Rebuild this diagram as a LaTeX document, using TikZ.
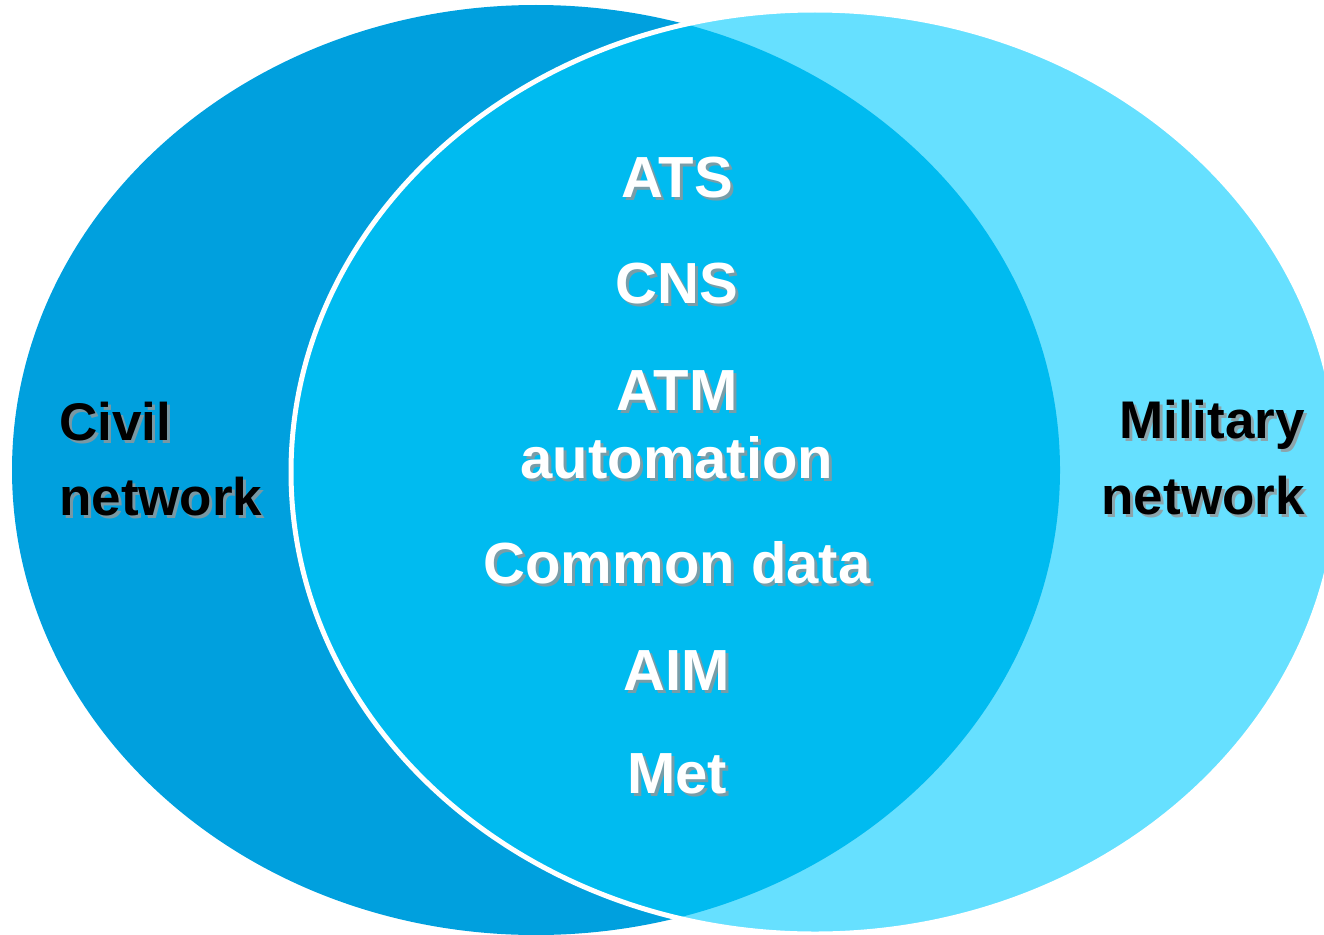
\documentclass[tikz,border=0pt]{standalone}
\usepackage{fontspec}
\setmainfont{Liberation Sans}
\definecolor{civilblue}{RGB}{0,160,222}
\definecolor{commonblue}{RGB}{0,187,240}
\definecolor{milblue}{RGB}{102,224,255}
\definecolor{shadowgray}{RGB}{150,150,150}
\tikzset{
  bigtxt/.style={inner sep=0pt, anchor=base, font=\fontsize{58}{60}\selectfont\bfseries, text=white},
  sidetxt/.style={inner sep=0pt, font=\fontsize{53}{55}\selectfont\bfseries, text=black},
  shadowtxt/.style={text=shadowgray, opacity=0.8},
}
\newcommand\shtext[5]{%
  \node[#2,shadowtxt] (#1s) at ([shift={(3,3)}]#3) {#5};
  \node[#2] (#1) at (#3) {#5};
}
\begin{document}
\begin{tikzpicture}[x=1pt,y=-1pt]
\useasboundingbox (0,0) rectangle (1324,934);
\clip (0,0) rectangle (1324,934);
% ellipses
\fill[civilblue] (536,470) ellipse [x radius=524, y radius=465];
\fill[milblue] (815,472) ellipse [x radius=524, y radius=462];
\begin{scope}
  \clip (536,470) ellipse [x radius=524, y radius=465];
  \fill[commonblue] (815,472) ellipse [x radius=524, y radius=462];
\end{scope}
\draw[white, line width=5pt] (815,472) ellipse [x radius=524, y radius=462];
% centre texts
\shtext{ats}{bigtxt}{677,197}{}{ATS}
\shtext{cns}{bigtxt}{677,303}{}{CNS}
\shtext{atm}{bigtxt}{677,410}{}{ATM}
\shtext{auto}{bigtxt}{677,478}{}{automation}
\shtext{common}{bigtxt}{677,583}{}{Common data}
\shtext{aim}{bigtxt}{677,690}{}{AIM}
\shtext{met}{bigtxt}{677,793}{}{Met}
% side texts
\shtext{civ}{sidetxt,anchor=base west}{59,440}{}{Civil}
\shtext{civn}{sidetxt,anchor=base west}{59,515}{}{network}
\shtext{mil}{sidetxt,anchor=base east}{1305,438}{}{Military}
\shtext{miln}{sidetxt,anchor=base east}{1305,514}{}{network}
\end{tikzpicture}
\end{document}
